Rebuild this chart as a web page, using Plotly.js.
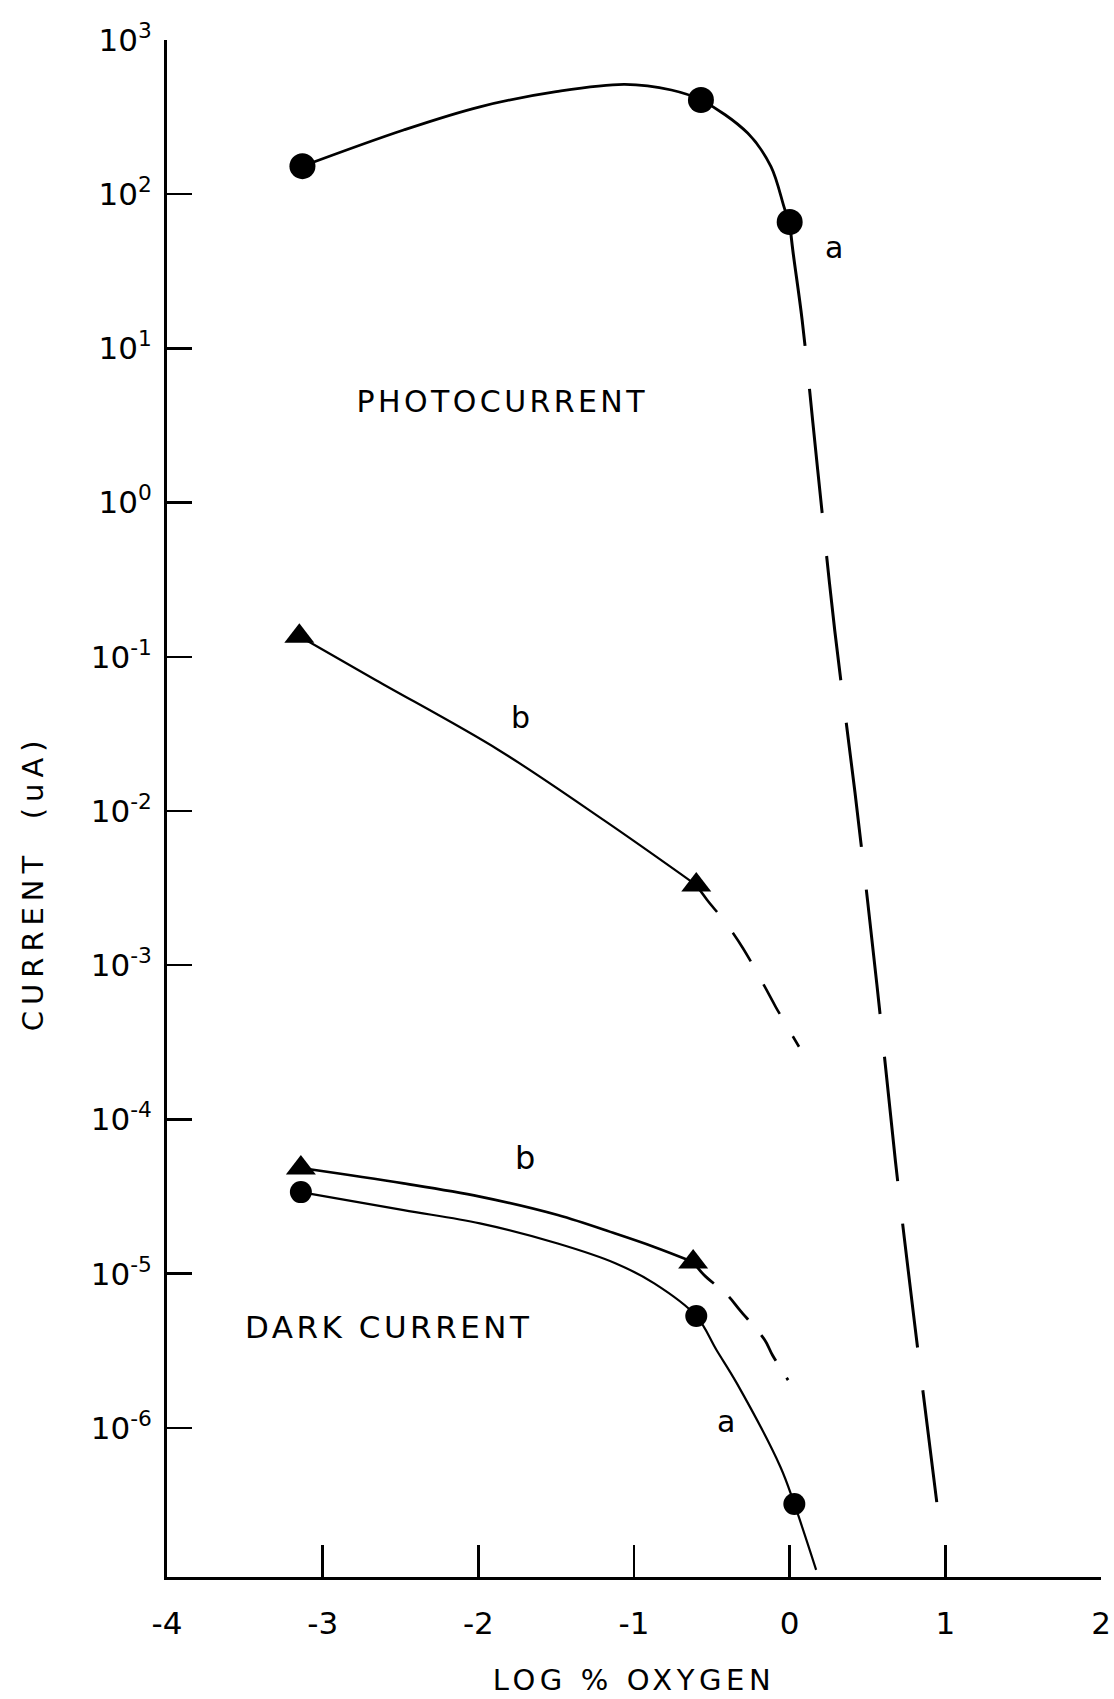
<!DOCTYPE html>
<html>
<head>
<meta charset="utf-8">
<script src="https://cdn.plot.ly/plotly-3.0.1.min.js"></script>
<style>
  html, body { margin: 0; padding: 0; background: #ffffff; }
  #chart { width: 1114px; height: 1699px; }
</style>
</head>
<body>
<div id="chart"></div>
<script>
// Log % oxygen (x) versus current in microamperes (y, log scale)

// Photocurrent, curve a (circles)
const photoAOxygen = [-3.13, -0.57, 0.0];
const photoACurrent = [152, 408, 66];
const photoACurveOxygen = [-3.13, -2.48, -1.99, -1.50, -1.06, -0.76, -0.57, -0.27, -0.12, -0.03, 0.0];
const photoACurveCurrent = [152, 261, 369, 462, 516, 474, 408, 249, 151, 79, 66];
const photoAExtrapOxygen = [0.0, 0.02, 0.08, 0.18, 0.29, 0.42, 0.56, 0.68, 0.80, 0.945];
const photoAExtrapCurrent = [66, 43.5, 15.3, 1.63, 0.147, 0.0131, 7.55e-4, 5.3e-5, 5.0e-6, 3.3e-7];

// Photocurrent, curve b (triangles)
const photoBOxygen = [-3.15, -0.60];
const photoBCurrent = [0.136, 3.31e-3];
const photoBCurveOxygen = [-3.15, -2.66, -1.87, -1.18, -0.60];
const photoBCurveCurrent = [0.136, 0.0708, 0.0249, 8.53e-3, 3.31e-3];
const photoBExtrapOxygen = [-0.60, -0.53, -0.41, -0.30, -0.16, -0.09, 0.06];
const photoBExtrapCurrent = [3.31e-3, 2.65e-3, 1.88e-3, 1.29e-3, 7.26e-4, 5.38e-4, 2.96e-4];

// Dark current, curve b (triangles)
const darkBOxygen = [-3.14, -0.62];
const darkBCurrent = [4.84e-5, 1.19e-5];
const darkBCurveOxygen = [-3.14, -2.48, -1.99, -1.49, -1.12, -0.87, -0.62];
const darkBCurveCurrent = [4.84e-5, 3.85e-5, 3.16e-5, 2.40e-5, 1.82e-5, 1.49e-5, 1.19e-5];
const darkBExtrapOxygen = [-0.62, -0.55, -0.40, -0.32, -0.16, -0.11, -0.01];
const darkBExtrapCurrent = [1.19e-5, 9.8e-6, 7.26e-6, 5.81e-6, 3.71e-6, 2.96e-6, 2.04e-6];

// Dark current, curve a (circles)
const darkAOxygen = [-3.14, -0.60, 0.03];
const darkACurrent = [3.38e-5, 5.31e-6, 3.21e-7];
const darkACurveOxygen = [-3.14, -2.48, -1.99, -1.49, -1.12, -0.87, -0.60, -0.47, -0.34, -0.06, 0.03, 0.17];
const darkACurveCurrent = [3.38e-5, 2.58e-5, 2.12e-5, 1.57e-5, 1.17e-5, 8.65e-6, 5.31e-6, 3.20e-6, 1.95e-6, 5.60e-7, 3.21e-7, 1.20e-7];

// Axis ticks
const xTickVals = [-4, -3, -2, -1, 0, 1, 2];
const xTickText = ['-4', '-3', '-2', '-1', '0', '1', '2'];
const yTickVals = [1e3, 1e2, 1e1, 1e0, 1e-1, 1e-2, 1e-3, 1e-4, 1e-5, 1e-6];
const yTickText = ['10<sup>3</sup>', '10<sup>2</sup>', '10<sup>1</sup>', '10<sup>0</sup>',
  '10<sup>-1</sup>', '10<sup>-2</sup>', '10<sup>-3</sup>', '10<sup>-4</sup>',
  '10<sup>-5</sup>', '10<sup>-6</sup>'];

const INK = '#000000';
const FONT = 'DejaVu Sans, Liberation Sans, sans-serif';

function curve(x, y, width, dash) {
  return {
    x: x, y: y, type: 'scatter', mode: 'lines', hoverinfo: 'skip', showlegend: false,
    line: { color: INK, width: width, shape: 'spline', smoothing: 1, dash: dash || 'solid' }
  };
}
function points(x, y, symbol, size) {
  return {
    x: x, y: y, type: 'scatter', mode: 'markers', showlegend: false,
    marker: { color: INK, symbol: symbol, size: size, line: { width: 0 } }
  };
}

const traces = [
  curve(photoACurveOxygen, photoACurveCurrent, 2.8),
  curve(photoAExtrapOxygen, photoAExtrapCurrent, 3, '125px,43px'),
  curve(photoBCurveOxygen, photoBCurveCurrent, 2.2),
  curve(photoBExtrapOxygen, photoBExtrapCurrent, 2.6, '34px,26px'),
  curve(darkBCurveOxygen, darkBCurveCurrent, 2.6),
  curve(darkBExtrapOxygen, darkBExtrapCurrent, 2.8, '30px,20px'),
  curve(darkACurveOxygen, darkACurveCurrent, 2.2),
  points(photoAOxygen, photoACurrent, 'circle', 26),
  points(photoBOxygen, photoBCurrent, 'triangle-up', 26),
  points(darkBOxygen, darkBCurrent, 'triangle-up', 26),
  points(darkAOxygen, darkACurrent, 'circle', 22)
];

function label(text, x, y, size) {
  return {
    text: text, xref: 'paper', yref: 'paper', x: x, y: y,
    xanchor: 'center', yanchor: 'middle', showarrow: false,
    font: { family: FONT, size: size, color: INK }
  };
}

const layout = {
  width: 1114,
  height: 1699,
  margin: { l: 167, r: 13, t: 40, b: 122 },
  paper_bgcolor: '#ffffff',
  plot_bgcolor: '#ffffff',
  showlegend: false,
  font: { family: FONT, color: INK },
  xaxis: {
    range: [-4, 2],
    tickmode: 'array', tickvals: xTickVals, ticktext: xTickText,
    ticks: 'inside', ticklen: 32, tickwidth: 2.4, tickcolor: INK,
    showline: true, linewidth: 3, linecolor: INK,
    showgrid: false, zeroline: false,
    ticklabelstandoff: 17,
    tickfont: { family: FONT, size: 31, color: INK },
    title: { text: 'LOG % OXYGEN', standoff: 30, font: { family: FONT, size: 29, color: INK } }
  },
  yaxis: {
    type: 'log',
    range: [-6.967, 3],
    tickmode: 'array', tickvals: yTickVals, ticktext: yTickText,
    ticks: 'inside', ticklen: 25, tickwidth: 2.4, tickcolor: INK,
    showline: true, linewidth: 3, linecolor: INK,
    showgrid: false, zeroline: false,
    ticklabelstandoff: 6,
    tickfont: { family: FONT, size: 31, color: INK }
  },
  annotations: [
    label('CURRENT  (uA)', -0.1435, 0.452, 29),
    label('PHOTOCURRENT', 0.3587, 0.7651, 30),
    label('a', 0.714, 0.8647, 30),
    label('b', 0.378, 0.5589, 30),
    label('b', 0.3833, 0.2726, 32),
    label('DARK CURRENT', 0.2377, 0.1627, 31),
    label('a', 0.599, 0.101, 30)
  ]
};
layout.annotations[0].textangle = -90;

// Hand-lettered labels are widely spaced
const letterSpacing = {
  'CURRENT  (uA)': '6px',
  'PHOTOCURRENT': '3.4px',
  'DARK CURRENT': '3.5px',
  'LOG % OXYGEN': '4.6px'
};

Plotly.newPlot('chart', traces, layout, { displayModeBar: false, staticPlot: true }).then(function (gd) {
  gd.querySelectorAll('.annotation-text, .xtitle').forEach(function (el) {
    const s = letterSpacing[el.textContent];
    if (s) el.style.letterSpacing = s;
  });
});
</script>
</body>
</html>
